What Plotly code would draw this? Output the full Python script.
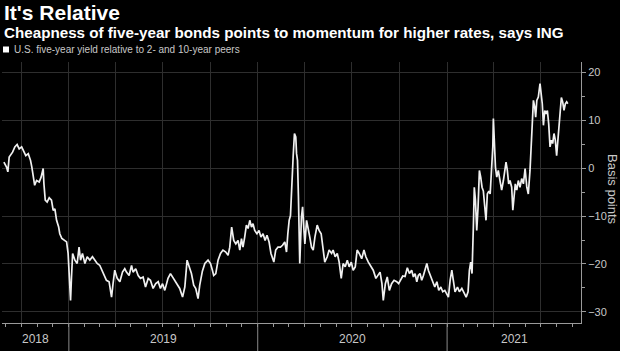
import numpy as np
import pandas as pd
import plotly.graph_objects as go

# decimal-year time stamps and spread values (basis points)
t = [2018.656, 2018.670, 2018.677, 2018.684, 2018.702, 2018.714, 2018.726, 2018.737, 2018.750, 2018.762,
     2018.772, 2018.785, 2018.797, 2018.804, 2018.811, 2018.819, 2018.829, 2018.843, 2018.853, 2018.864,
     2018.868, 2018.875, 2018.885, 2018.896, 2018.908, 2018.917, 2018.926, 2018.935, 2018.946, 2018.952,
     2018.963, 2018.974, 2018.988, 2018.996, 2019.002, 2019.009, 2019.014, 2019.020, 2019.032, 2019.044,
     2019.054, 2019.062, 2019.072, 2019.085, 2019.097, 2019.111, 2019.125, 2019.138, 2019.150, 2019.164,
     2019.181, 2019.199, 2019.213, 2019.226, 2019.234, 2019.243, 2019.256, 2019.270, 2019.284, 2019.296,
     2019.305, 2019.319, 2019.332, 2019.340, 2019.354, 2019.367, 2019.379, 2019.393, 2019.406, 2019.420,
     2019.432, 2019.446, 2019.460, 2019.473, 2019.485, 2019.496, 2019.508, 2019.525, 2019.538, 2019.549,
     2019.561, 2019.573, 2019.587, 2019.602, 2019.614, 2019.626, 2019.637, 2019.649, 2019.661, 2019.672,
     2019.684, 2019.693, 2019.707, 2019.720, 2019.737, 2019.750, 2019.760, 2019.767, 2019.778, 2019.790,
     2019.803, 2019.816, 2019.831, 2019.843, 2019.852, 2019.862, 2019.873, 2019.884, 2019.896, 2019.905,
     2019.914, 2019.922, 2019.931, 2019.940, 2019.949, 2019.958, 2019.967, 2019.975, 2019.984, 2019.996,
     2020.007, 2020.017, 2020.028, 2020.039, 2020.049, 2020.060, 2020.070, 2020.085, 2020.095, 2020.107,
     2020.120, 2020.131, 2020.143, 2020.152, 2020.159, 2020.166, 2020.173, 2020.180, 2020.187, 2020.194,
     2020.201, 2020.205, 2020.210, 2020.215, 2020.222, 2020.231, 2020.237, 2020.243, 2020.249, 2020.258,
     2020.266, 2020.275, 2020.284, 2020.293, 2020.302, 2020.314, 2020.324, 2020.335, 2020.346, 2020.354,
     2020.367, 2020.377, 2020.390, 2020.398, 2020.409, 2020.420, 2020.430, 2020.441, 2020.451, 2020.462,
     2020.473, 2020.483, 2020.494, 2020.504, 2020.515, 2020.525, 2020.536, 2020.549, 2020.561, 2020.571,
     2020.584, 2020.596, 2020.610, 2020.624, 2020.635, 2020.646, 2020.656, 2020.663, 2020.674, 2020.684,
     2020.695, 2020.707, 2020.720, 2020.734, 2020.744, 2020.755, 2020.766, 2020.778, 2020.790, 2020.801,
     2020.813, 2020.822, 2020.831, 2020.840, 2020.848, 2020.857, 2020.866, 2020.875, 2020.884, 2020.893,
     2020.901, 2020.914, 2020.924, 2020.935, 2020.946, 2020.956, 2020.967, 2020.977, 2020.988, 2020.998,
     2021.007, 2021.016, 2021.025, 2021.033, 2021.042, 2021.055, 2021.065, 2021.078, 2021.090, 2021.101,
     2021.111, 2021.118, 2021.125, 2021.132, 2021.139, 2021.144, 2021.150, 2021.157, 2021.164, 2021.171,
     2021.178, 2021.185, 2021.192, 2021.200, 2021.206, 2021.213, 2021.221, 2021.228, 2021.237, 2021.242,
     2021.245, 2021.250, 2021.256, 2021.263, 2021.271, 2021.280, 2021.289, 2021.298, 2021.307, 2021.312,
     2021.319, 2021.326, 2021.333, 2021.342, 2021.348, 2021.354, 2021.361, 2021.369, 2021.377, 2021.386,
     2021.395, 2021.404, 2021.413, 2021.422, 2021.430, 2021.439, 2021.448, 2021.457, 2021.464, 2021.469,
     2021.475, 2021.483, 2021.492, 2021.497, 2021.504, 2021.510, 2021.517, 2021.524, 2021.531, 2021.538,
     2021.545, 2021.552, 2021.559, 2021.566, 2021.573, 2021.580, 2021.589, 2021.598, 2021.605, 2021.612,
     2021.619, 2021.626, 2021.633, 2021.639]

bp = [1.25, 0.2, -0.8, 2.3, 3.3, 4.4, 4.9, 4.0, 4.4, 3.3,
      2.6, 3.0, 1.6, 0.2, -1.5, -3.6, -2.6, -2.9, -1.9, -0.1,
      -3.3, -6.7, -7.1, -6.2, -6.7, -8.8, -8.5, -10.9, -12.3, -13.7,
      -14.7, -15.1, -15.4, -17.8, -24.1, -27.6, -22.7, -17.8, -19.2, -19.9,
      -16.5, -19.2, -17.8, -19.9, -18.5, -19.2, -18.5, -19.2, -19.9, -20.3,
      -22.0, -23.4, -23.7, -26.9, -24.1, -21.3, -23.0, -23.7, -21.7, -21.0,
      -21.7, -22.4, -20.3, -21.7, -21.0, -22.4, -23.0, -22.7, -24.8, -23.0,
      -23.4, -25.1, -24.1, -23.7, -25.1, -24.1, -25.5, -23.0, -22.0, -22.7,
      -23.4, -24.4, -25.1, -26.9, -24.8, -19.2, -20.6, -22.0, -24.4, -25.1,
      -27.2, -24.4, -21.5, -19.9, -19.2, -19.9, -21.3, -22.4, -22.0, -19.2,
      -17.8, -17.1, -17.5, -18.2, -16.5, -12.3, -15.1, -15.8, -15.1, -17.1,
      -14.7, -16.5, -14.4, -11.9, -12.6, -10.9, -12.3, -11.6, -13.0, -13.7,
      -13.0, -14.4, -13.7, -15.1, -14.0, -15.4, -17.8, -19.6, -17.1, -16.5,
      -16.5, -16.1, -15.4, -17.5, -13.7, -10.9, -9.9, -2.6, 2.3, 7.2,
      6.5, 3.0, 1.6, -6.0, -19.9, -10.2, -8.1, -12.3, -15.8, -10.9,
      -12.3, -14.4, -16.5, -17.1, -14.4, -11.9, -13.0, -13.7, -17.1, -19.6,
      -18.5, -17.1, -17.8, -17.1, -18.5, -17.8, -19.6, -23.0, -19.9, -20.6,
      -19.2, -20.6, -19.6, -21.3, -20.6, -17.1, -17.8, -18.9, -17.1, -18.5,
      -19.6, -20.3, -21.3, -23.0, -22.4, -21.7, -24.1, -27.6, -24.1, -22.7,
      -25.5, -24.1, -23.4, -23.7, -24.1, -23.4, -22.5, -22.6, -20.8, -22.0,
      -21.3, -22.7, -22.0, -23.7, -22.4, -22.0, -23.4, -22.4, -21.0, -19.9,
      -21.3, -22.7, -23.7, -24.8, -23.7, -25.5, -24.8, -25.8, -25.5, -26.2,
      -26.9, -23.4, -21.3, -23.4, -25.8, -24.8, -25.8, -25.1, -26.2, -26.9,
      -25.8, -21.3, -19.6, -22.0, -12.3, -4.0, -6.7, -13.0, -8.1, -0.5,
      -1.9, -4.0, -4.8, -9.5, -10.9, -5.4, -4.8, -5.4, 1.6, 4.4,
      10.3, 3.7, 0.2, -1.9, -0.5, -2.6, -4.6, -2.6, -0.5, 1.25,
      -0.5, -3.3, -2.6, -4.0, -8.8, -5.4, -3.3, -4.6, -2.6, -4.0,
      -2.2, -3.3, -0.1, -4.0, -5.4, -0.5, 5.8, 14.1, 12.7, 10.6,
      14.1, 14.8, 17.6, 15.5, 13.4, 8.9, 12.0, 11.3, 12.0, 9.2,
      4.4, 5.8, 5.1, 7.2, 5.8, 2.6, 7.2, 12.7, 14.7, 13.8,
      12.0, 13.4, 13.8, 13.4]

years = [2018, 2019, 2020, 2021]
x_range_years = [2018.646, 2021.709]
y_range = [-32.3, 22.1]

title_text = "It's Relative"
subtitle_text = "Cheapness of five-year bonds points to momentum for higher rates, says ING"
legend_text = "U.S. five-year yield relative to 2- and 10-year peers"
y_title = "Basis points"


def to_date(dec):
    y = int(np.floor(dec))
    start = pd.Timestamp(year=y, month=1, day=1)
    end = pd.Timestamp(year=y + 1, month=1, day=1)
    return start + (end - start) * (dec - y)


dates = [to_date(v) for v in t]
xr = [to_date(v) for v in x_range_years]

W, H = 620, 351
ml, mr, mt, mb = 2, 39, 62, 28
ph = H - mt - mb
pw = W - ml - mr


def py(pix):  # pixel row -> paper y
    return (H - mb - pix) / ph


def px(pix):  # pixel col -> paper x
    return (pix - ml) / pw


fig = go.Figure()
fig.add_trace(go.Scatter(x=dates, y=bp, mode="lines",
                         line=dict(color="#f0f0f0", width=1.7), showlegend=False,
                         hoverinfo="skip"))

grid = "#2e2e2e"
axis_c = "#9a9a9a"
fig.update_xaxes(type="date", range=xr, showticklabels=False,
                 tick0="2018-01-01", dtick="M3", showgrid=True, gridcolor=grid, gridwidth=1,
                 ticks="outside", ticklen=3, tickcolor=axis_c,
                 minor=dict(dtick="M1", ticks="outside", ticklen=3, tickcolor=axis_c, showgrid=False),
                 showline=True, linecolor=axis_c, linewidth=1, zeroline=False)
fig.update_yaxes(side="right", range=y_range, tick0=0, dtick=10,
                 showgrid=True, gridcolor=grid, gridwidth=1, zeroline=False,
                 ticks="outside", ticklen=4, tickcolor=axis_c,
                 minor=dict(dtick=5, ticks="outside", ticklen=3, tickcolor=axis_c, showgrid=False),
                 showline=True, linecolor=axis_c, linewidth=1,
                 tickfont=dict(family="Liberation Sans Narrow, Liberation Sans, Arial", size=11, color="#c8c8c8"))

shapes = []
annotations = []
for i, yr in enumerate(years):
    ys = pd.Timestamp(year=yr, month=1, day=1)
    ye = pd.Timestamp(year=yr + 1, month=1, day=1)
    if ys > xr[0]:
        shapes.append(dict(type="line", xref="x", yref="paper", x0=ys, x1=ys,
                           y0=0, y1=py(351), line=dict(color="#8a8a8a", width=1)))
    a = max(ys, xr[0])
    b = min(ye, xr[1])
    annotations.append(dict(x=a + (b - a) / 2, xref="x", y=py(339), yref="paper",
                            text=str(yr), showarrow=False, xanchor="center", yanchor="middle",
                            font=dict(family="Liberation Sans Narrow, Liberation Sans, Arial", size=12, color="#c8c8c8")))

# legend square
shapes.append(dict(type="rect", xref="paper", yref="paper", x0=px(3), x1=px(9), y0=py(52.5), y1=py(46.5),
                   fillcolor="#ffffff", line=dict(width=0)))

annotations += [
    dict(x=px(2), xref="paper", y=py(13), yref="paper", text="<b>" + title_text + "</b>",
         showarrow=False, xanchor="left", yanchor="middle",
         font=dict(family="Liberation Sans, Arial", size=21, color="#ffffff")),
    dict(x=px(2), xref="paper", y=py(33), yref="paper", text="<b>" + subtitle_text + "</b>",
         showarrow=False, xanchor="left", yanchor="middle",
         font=dict(family="Liberation Sans, Arial", size=15.2, color="#ffffff")),
    dict(x=px(12), xref="paper", y=py(49.5), yref="paper", text=legend_text,
         showarrow=False, xanchor="left", yanchor="middle",
         font=dict(family="Liberation Sans Narrow, Liberation Sans, Arial", size=10, color="#c8c8c8")),
    dict(x=px(613), xref="paper", y=py(190), yref="paper", text=y_title, textangle=90,
         showarrow=False, xanchor="center", yanchor="middle",
         font=dict(family="Liberation Sans, Arial", size=13, color="#c8c8c8")),
]

fig.update_layout(width=W, height=H, margin=dict(l=ml, r=mr, t=mt, b=mb),
                  paper_bgcolor="#000000", plot_bgcolor="#000000",
                  shapes=shapes, annotations=annotations, showlegend=False)

fig.write_html("out.html")
